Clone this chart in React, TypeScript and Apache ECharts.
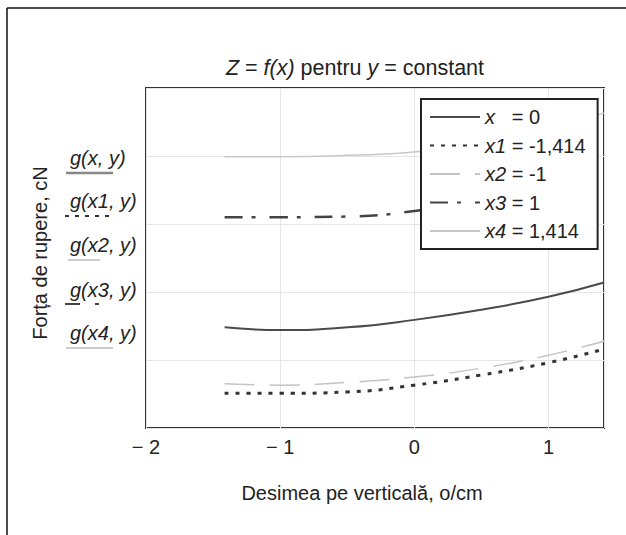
import React, { useEffect, useRef } from "react";
import * as echarts from "echarts";

const xValues = [-1.414, -1, -0.5, 0, 0.5, 1, 1.414];
const seriesNames = ["x = 0", "x1 = -1,414", "x2 = -1", "x3 = 1", "x4 = 1,414"];
const legendLabels = ["{i|x}   = 0", "{i|x1} = -1,414", "{i|x2} = -1", "{i|x3} = 1", "{i|x4} = 1,414"];
const gX0 = [1.48, 1.44, 1.48, 1.59, 1.74, 1.93, 2.14];
const gX1 = [0.51, 0.51, 0.53, 0.63, 0.78, 0.96, 1.16];
const gX2 = [0.65, 0.63, 0.67, 0.75, 0.88, 1.07, 1.28];
const gX3 = [3.1, 3.1, 3.11, 3.19, 3.35, 3.55, 3.8];
const gX4 = [3.99, 3.99, 4.01, 4.06, 4.2, 4.4, 4.63];
const sideLabels = ["g(x, y)", "g(x1, y)", "g(x2, y)", "g(x3, y)", "g(x4, y)"];
const xTicks = [-2, -1, 0, 1];

const FONT = "'Liberation Sans', Arial, sans-serif";

export default function App() {
  const ref = useRef<HTMLDivElement>(null);
  useEffect(() => {
    if (!ref.current) return;
    const chart = echarts.init(ref.current, undefined, { renderer: "svg" });
    const allData = [gX0, gX1, gX2, gX3, gX4];
    const styles = [
      { color: "#4a4a4a", width: 2, type: "solid" as any },
      { color: "#333", width: 3, type: [4, 7] as any },
      { color: "#c4c4c4", width: 1.5, type: [30, 15] as any },
      { color: "#444", width: 2.5, type: [18, 9, 4, 14] as any },
      { color: "#c8c8c8", width: 1.5, type: "solid" as any },
    ];
    const series = allData.map((d, k) => ({
      name: seriesNames[k],
      type: "line",
      smooth: true,
      symbol: "none",
      data: xValues.map((x, i) => [x, d[i]]),
      lineStyle: styles[k],
      itemStyle: { color: styles[k].color },
      z: 2,
    }));

    const sideY = [158, 201, 245, 290, 333];
    const graphics: any[] = [
      { type: "line", shape: { x1: 7, y1: 8, x2: 626, y2: 8 }, style: { stroke: "#111", lineWidth: 1.5 } },
      { type: "line", shape: { x1: 7, y1: 8, x2: 7, y2: 535 }, style: { stroke: "#111", lineWidth: 1.5 } },
      {
        type: "text", x: 40, y: 253, rotation: Math.PI / 2,
        style: { text: "Forța de rupere, cN", font: `20px ${FONT}`, fill: "#222", align: "center", verticalAlign: "middle" },
      },
      {
        type: "text", x: 362, y: 493,
        style: { text: "Desimea pe verticală, o/cm", font: `20px ${FONT}`, fill: "#222", align: "center", verticalAlign: "middle" },
      },
      {
        type: "text", x: 355, y: 68,
        style: {
          text: "{i|Z} = {i|f(x)} pentru {i|y} = constant",
          font: `21.5px ${FONT}`, fill: "#222", align: "center", verticalAlign: "middle",
          rich: { i: { fontStyle: "italic", fontSize: 21.5, fontFamily: FONT, fill: "#222" } },
        },
      },
    ];
    sideLabels.forEach((t, i) => {
      graphics.push({
        type: "text", x: 70, y: sideY[i],
        style: { text: t, font: `italic 20px ${FONT}`, fill: "#222", align: "left", verticalAlign: "middle" },
      });
    });
    graphics.push(
      { type: "line", shape: { x1: 66, y1: 173, x2: 113, y2: 173 }, style: { stroke: "#888", lineWidth: 2.5 } },
      { type: "line", shape: { x1: 65, y1: 216, x2: 113, y2: 216 }, style: { stroke: "#333", lineWidth: 2, lineDash: [4, 6] } },
      { type: "line", shape: { x1: 68, y1: 260, x2: 100, y2: 260 }, style: { stroke: "#bbb", lineWidth: 1.5 } },
      { type: "line", shape: { x1: 65, y1: 304, x2: 80, y2: 304 }, style: { stroke: "#444", lineWidth: 2 } },
      { type: "line", shape: { x1: 95, y1: 304, x2: 99, y2: 304 }, style: { stroke: "#444", lineWidth: 2 } },
      { type: "line", shape: { x1: 66, y1: 348, x2: 113, y2: 348 }, style: { stroke: "#bbb", lineWidth: 1.5 } }
    );

    chart.setOption({
      animation: false,
      backgroundColor: "#fff",
      grid: {
        left: 146, right: 22, top: 88, bottom: 107,
        show: true, borderColor: "#333", borderWidth: 2, backgroundColor: "#fff",
      },
      xAxis: {
        type: "value", min: -2, max: 1.414, interval: 1,
        axisLine: { show: false }, axisTick: { show: false },
        splitLine: { show: true, lineStyle: { color: "#e6e6e6", width: 1 } },
        axisLabel: {
          margin: 9, fontSize: 20, fontFamily: FONT, color: "#222",
          formatter: (v: number) => {
            const r = Math.round(v);
            if (Math.abs(v - r) > 1e-6 || !xTicks.includes(r)) return "";
            return r < 0 ? "− " + Math.abs(r) : String(r);
          },
        },
      },
      yAxis: {
        type: "value", min: 0, max: 5, interval: 1,
        axisLine: { show: false }, axisTick: { show: false }, axisLabel: { show: false },
        splitLine: { show: true, lineStyle: { color: "#e6e6e6", width: 1 } },
      },
      legend: {
        orient: "vertical", left: 421, top: 99,
        padding: [8, 12, 8, 8], itemWidth: 50, itemHeight: 20, itemGap: 8.5,
        borderColor: "#222", borderWidth: 2, backgroundColor: "#fff",
        itemStyle: { opacity: 0 },
        data: seriesNames,
        formatter: (n: string) => legendLabels[seriesNames.indexOf(n)],
        textStyle: {
          fontSize: 20, lineHeight: 20, fontFamily: FONT, color: "#222",
          rich: { i: { fontStyle: "italic", fontSize: 20, lineHeight: 20, fontFamily: FONT, color: "#222" } },
        },
      },
      graphic: graphics,
      series,
    });
    return () => chart.dispose();
  }, []);
  return <div ref={ref} style={{ position: "fixed", left: 0, top: 0, width: 626, height: 535 }} />;
}
